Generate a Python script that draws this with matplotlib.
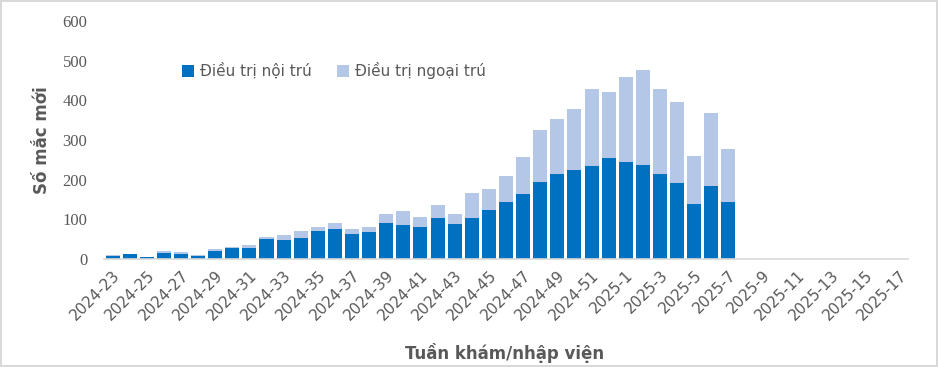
import numpy as np
import matplotlib.pyplot as plt

# Weeks 2024-23 .. 2024-52, 2025-1 .. 2025-17
weeks = ["2024-%d" % w for w in range(23, 53)] + ["2025-%d" % w for w in range(1, 18)]

# Values (up to 2025-7)
noi_tru = [8, 13, 5, 15, 13, 8, 20, 28, 28, 50, 48, 53, 70, 76, 63, 68,
           91, 86, 81, 103, 88, 103, 123, 144, 164, 194, 214, 224, 234, 254,
           244, 237, 214, 191, 139, 184, 144]
tong = [10, 13, 5, 20, 18, 10, 25, 30, 35, 55, 60, 70, 81, 91, 76, 81,
        113, 121, 106, 136, 113, 166, 176, 209, 257, 325, 353, 378, 428, 421,
        458, 476, 428, 396, 260, 368, 277]
ngoai_tru = [t - n for t, n in zip(tong, noi_tru)]

dark = "#0070C0"
light = "#B4C7E7"
grey = "#595959"

fig = plt.figure(figsize=(9.38, 3.67), dpi=100)
fig.patch.set_edgecolor("#D9D9D9")
fig.patch.set_linewidth(1.5)
ax = fig.add_axes([104 / 938, 1 - 259 / 367, 804 / 938, 238 / 367])

x = np.arange(len(noi_tru))
ax.bar(x, noi_tru, width=0.82, color=dark, label="Điều trị nội trú")
ax.bar(x, ngoai_tru, width=0.82, bottom=noi_tru, color=light, label="Điều trị ngoại trú")

ax.set_xlim(-0.5, len(weeks) - 0.5)
ax.set_ylim(0, 600)
ax.set_yticks(range(0, 601, 100))
for lab in ax.get_yticklabels():
    lab.set_family("Liberation Serif")
ax.tick_params(axis="y", labelsize=12, colors=grey, length=0, pad=12)

ticks = list(range(0, len(weeks), 2))
ax.set_xticks(ticks)
ax.set_xticklabels([weeks[i] for i in ticks], rotation=45, ha="right",
                   rotation_mode="anchor", fontsize=11, color=grey)
ax.tick_params(axis="x", length=0, pad=6)

for s in ["top", "right", "left"]:
    ax.spines[s].set_visible(False)
ax.spines["bottom"].set_color("#D9D9D9")
ax.spines["bottom"].set_linewidth(1.2)

ax.set_ylabel("Số mắc mới", fontsize=12, fontweight="bold", color=grey, labelpad=8)
fig.text(505 / 938, 1 - 353 / 367, "Tuần khám/nhập viện", fontsize=12,
         fontweight="bold", color=grey, ha="center", va="center")

ax.legend(loc="upper left", bbox_to_anchor=(0.08, 0.885), ncol=2, frameon=False,
          fontsize=11, handlelength=0.8, handleheight=0.8, columnspacing=1.6,
          handletextpad=0.4, labelcolor=grey)

plt.savefig("out.png", dpi=100)
